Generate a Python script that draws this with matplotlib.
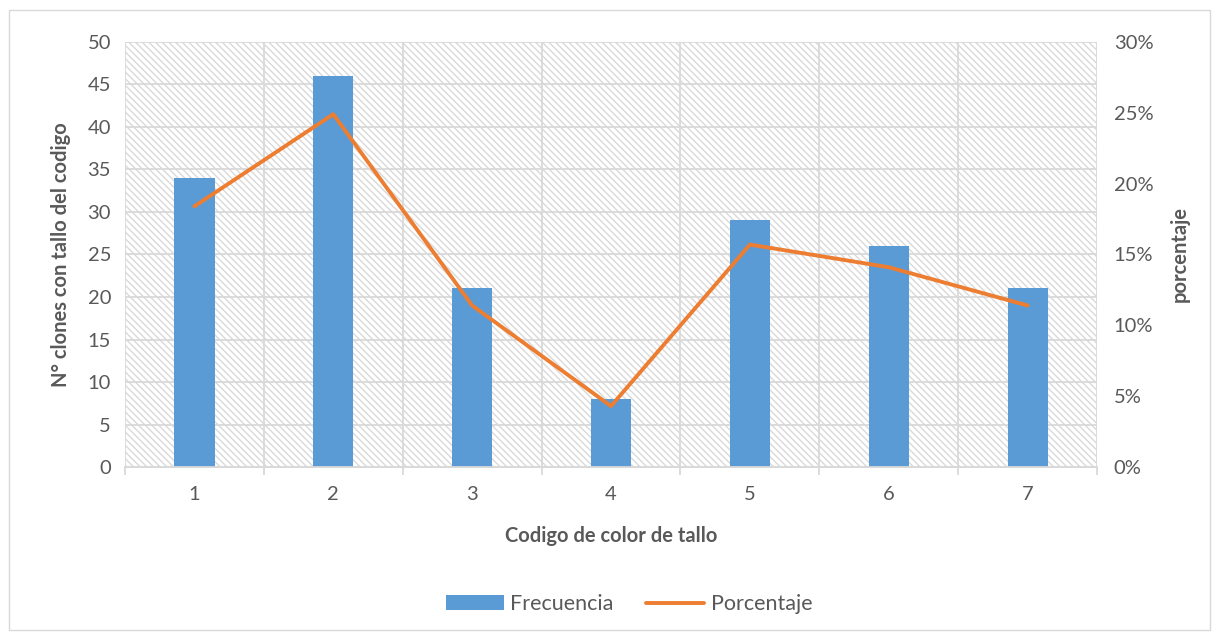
import matplotlib.pyplot as plt
from matplotlib.patches import Rectangle
from matplotlib.ticker import FuncFormatter, FixedLocator

plt.rcParams['font.family'] = ['Lato', 'DejaVu Sans']
plt.rcParams['hatch.color'] = '#d9d9d9'
plt.rcParams['hatch.linewidth'] = 1.0

codigos = [1, 2, 3, 4, 5, 6, 7]
frecuencia = [34, 46, 21, 8, 29, 26, 21]
porcentaje = [0.184, 0.249, 0.114, 0.043, 0.157, 0.141, 0.114]

txt = '#595959'
grid = '#d9d9d9'
fs = 14.5

fig = plt.figure(figsize=(12.19, 6.36), dpi=100)
fig.patches.append(Rectangle((0.007, 0.01), 0.986, 0.975, transform=fig.transFigure,
                             fill=False, edgecolor='#d9d9d9', linewidth=1))
ax = fig.add_axes([0.1025, 0.2657, 0.7975, 0.6683])
ax2 = ax.twinx()

# fondo rayado
ax.add_patch(Rectangle((0, 0), 1, 1, transform=ax.transAxes, facecolor='white',
                       hatch='\\\\\\\\\\', edgecolor=grid, linewidth=0, zorder=0))

ax.set_xlim(0.5, 7.5)
ax.set_ylim(0, 50)
ax.set_yticks(range(0, 51, 5))
ax.xaxis.set_minor_locator(FixedLocator([x + 0.5 for x in range(0, 8)]))
ax.grid(True, axis='y', color=grid, linewidth=1.3, zorder=1)
ax.grid(True, axis='x', which='minor', color=grid, linewidth=1.3, zorder=1)
ax.set_axisbelow(True)

b = ax.bar(codigos, frecuencia, width=0.29, color='#5b9bd5', zorder=3, label='Frecuencia')
ax2.set_ylim(0, 0.30)
ax2.set_yticks([i / 100 for i in range(0, 31, 5)])
ax2.yaxis.set_major_formatter(FuncFormatter(lambda v, p: f'{v*100:.0f}%'))
l, = ax2.plot(codigos, porcentaje, color='#ed7d31', linewidth=2.8, zorder=4,
              label='Porcentaje', solid_capstyle='round')

for a in (ax, ax2):
    for s in ['top', 'right', 'left']:
        a.spines[s].set_visible(False)
    a.spines['bottom'].set_color(grid)
    a.spines['bottom'].set_linewidth(1.3)
    a.tick_params(axis='y', length=0, labelsize=fs, colors=txt, pad=10)
ax.tick_params(axis='x', which='major', length=0, labelsize=fs, colors=txt, pad=14)
ax.tick_params(axis='x', which='minor', length=6, color=grid, width=1.3)
ax2.tick_params(axis='y', pad=12)

ax.set_xlabel('Codigo de color de tallo', fontsize=fs, fontweight='bold', color=txt, labelpad=16)
ax.set_ylabel('N° clones con tallo del codigo', fontsize=fs, fontweight='bold', color=txt, labelpad=12)
ax2.set_ylabel('porcentaje', fontsize=fs, fontweight='bold', color=txt, labelpad=12)

fig.legend([b, l], ['Frecuencia', 'Porcentaje'], loc='center', bbox_to_anchor=(0.516, 0.05),
           ncol=2, frameon=False, fontsize=fs + 1, labelcolor=txt, handlelength=2.7,
           handletextpad=0.3, columnspacing=1.5, handleheight=0.7)

fig.savefig('out.png', dpi=100)
